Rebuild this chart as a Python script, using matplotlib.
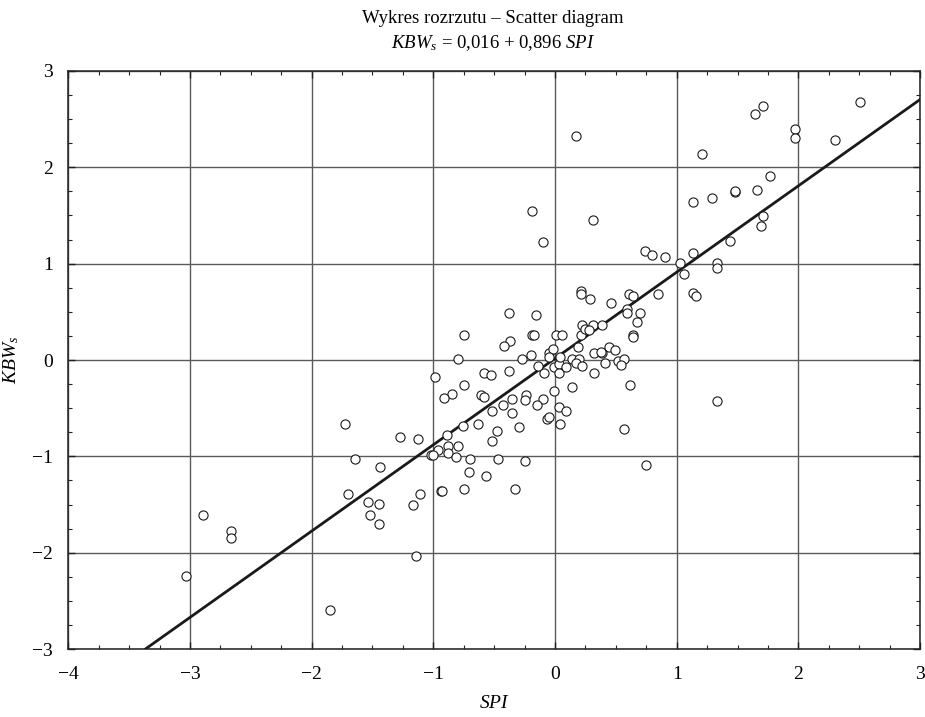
import numpy as np
import matplotlib
matplotlib.use("Agg")
import matplotlib.pyplot as plt
from matplotlib.ticker import MultipleLocator

plt.rcParams['font.family'] = ['Liberation Serif', 'DejaVu Serif']
plt.rcParams['mathtext.fontset'] = 'custom'
plt.rcParams['mathtext.rm'] = 'Liberation Serif'
plt.rcParams['mathtext.it'] = 'Liberation Serif:italic'
plt.rcParams['axes.unicode_minus'] = True

# SPI values (x)
spi = [
    -0.38, -0.16, -0.75, -0.37, -0.42, -0.19, -0.17, 0.01, 0.06, 0.21,
    0.21, 0.29, -0.80, -0.99, -0.58, -0.53, -0.38, -0.75, -0.85, -0.91,
    -0.61, -0.58, -0.35, -0.24, -0.10, -0.01, 0.14, 0.32, 0.32, -0.05,
    -0.02, -0.05, -0.27, -0.20, -0.14, -0.09, -0.01, 0.03, 0.03, 0.04,
    0.09, 0.14, 0.20, 0.17, 0.22, 0.19, 0.21, 0.22, 0.31, 0.25,
    0.28, 0.74, 0.80, 0.90, 1.03, 1.13, 1.06, 1.33, 1.33, 1.13,
    1.16, 0.85, 0.61, 0.64, 0.46, 0.59, 0.59, 0.70, 0.67, 0.39,
    0.64, 0.64, 0.44, 0.49, 0.39, 0.38, 0.41, 0.52, 0.57, 0.54,
    0.62, 1.33, 0.57, -0.25, -0.15, 0.03, 0.09, -0.07, -0.05, 0.04,
    -0.35, -0.43, -0.52, -0.63, -0.76, -0.89, -0.30, -0.48, -0.52, -0.88,
    -0.80, -0.96, -0.88, -0.81, -1.02, -1.00, -1.13, -1.27, -0.70, -0.47,
    -0.25, -0.71, -0.57, -0.75, -0.33, -0.94, -0.93, -1.11, -1.17, -1.73,
    -1.64, -1.44, -1.70, -1.54, -1.45, -1.52, -1.45, -2.89, -2.66, -2.66,
    -3.03, -1.85, -1.14, 2.51, 2.30, 1.97, 1.97, 1.71, 1.64, 1.21,
    1.77, 1.66, 1.48, 1.48, 1.29, 1.13, 1.71, 1.69, 1.44, 0.17,
    -0.19, 0.31, -0.10, 0.75,
]

# KBW_s values (y)
kbw = [
    0.49, 0.47, 0.26, 0.20, 0.15, 0.26, 0.26, 0.26, 0.26, 0.72,
    0.68, 0.63, 0.01, -0.18, -0.14, -0.16, -0.11, -0.26, -0.35, -0.39,
    -0.36, -0.38, -0.40, -0.36, -0.40, -0.32, -0.28, -0.14, 0.07, 0.07,
    0.11, 0.03, 0.01, 0.05, -0.06, -0.14, -0.07, -0.04, -0.14, 0.03,
    -0.07, 0.01, 0.01, -0.03, -0.06, 0.13, 0.26, 0.36, 0.36, 0.32,
    0.31, 1.13, 1.09, 1.07, 1.01, 1.11, 0.89, 1.01, 0.95, 0.70,
    0.66, 0.68, 0.68, 0.66, 0.59, 0.53, 0.49, 0.49, 0.39, 0.36,
    0.26, 0.24, 0.14, 0.10, 0.07, 0.08, -0.03, -0.01, 0.01, -0.05,
    -0.26, -0.43, -0.72, -0.41, -0.47, -0.49, -0.53, -0.61, -0.59, -0.66,
    -0.55, -0.47, -0.53, -0.66, -0.68, -0.78, -0.70, -0.74, -0.84, -0.89,
    -0.89, -0.93, -0.97, -1.01, -0.99, -0.99, -0.82, -0.80, -1.03, -1.03,
    -1.05, -1.16, -1.20, -1.34, -1.34, -1.36, -1.36, -1.39, -1.51, -0.66,
    -1.03, -1.11, -1.39, -1.47, -1.49, -1.61, -1.70, -1.61, -1.78, -1.85,
    -2.24, -2.59, -2.03, 2.68, 2.28, 2.40, 2.30, 2.64, 2.55, 2.14,
    1.91, 1.76, 1.74, 1.75, 1.68, 1.64, 1.49, 1.39, 1.24, 2.32,
    1.55, 1.45, 1.22, -1.09,
]

intercept = 0.016
slope = 0.896

xlim = (-4, 3)
ylim = (-3, 3)

fig = plt.figure(figsize=(9.25, 7.17), dpi=100)
ax = fig.add_axes([0.0738, 0.0948, 0.9209, 0.8062])

# regression line
xl = np.array([(ylim[0] - intercept) / slope, xlim[1]])
ax.plot(xl, intercept + slope * xl, color="#1a1a1a", lw=2.0, zorder=3)

ax.plot(spi, kbw, "o", ms=6.6, mfc="white", mec="#1a1a1a", mew=0.8, zorder=4)

ax.set_xlim(*xlim)
ax.set_ylim(*ylim)
ax.xaxis.set_major_locator(MultipleLocator(1))
ax.yaxis.set_major_locator(MultipleLocator(1))
ax.xaxis.set_minor_locator(MultipleLocator(0.25))
ax.yaxis.set_minor_locator(MultipleLocator(0.25))
ax.tick_params(which="both", direction="in", top=True, right=True,
               labelsize=14, color="#222222")
ax.tick_params(which="major", length=5, width=1)
ax.tick_params(axis="x", which="major", pad=12)
ax.tick_params(axis="y", which="major", pad=11)
ax.tick_params(which="minor", length=3, width=0.8)
ax.grid(True, which="major", color="#5a5a5a", lw=1.0, zorder=1)
for s in ax.spines.values():
    s.set_linewidth(1.1)
    s.set_color("#222222")

ax.set_xlabel("$SPI$", fontsize=14, labelpad=9)
ax.set_ylabel("$KBW_s$", fontsize=14, labelpad=8)

fig.text(0.533, 0.974, "Wykres rozrzutu \u2013 Scatter diagram", ha="center", va="center", fontsize=13.5)
fig.text(0.533, 0.940, "$KBW_s$ = 0,016 + 0,896 $SPI$", ha="center", va="center", fontsize=13.5)

fig.savefig("out.png", dpi=100)
